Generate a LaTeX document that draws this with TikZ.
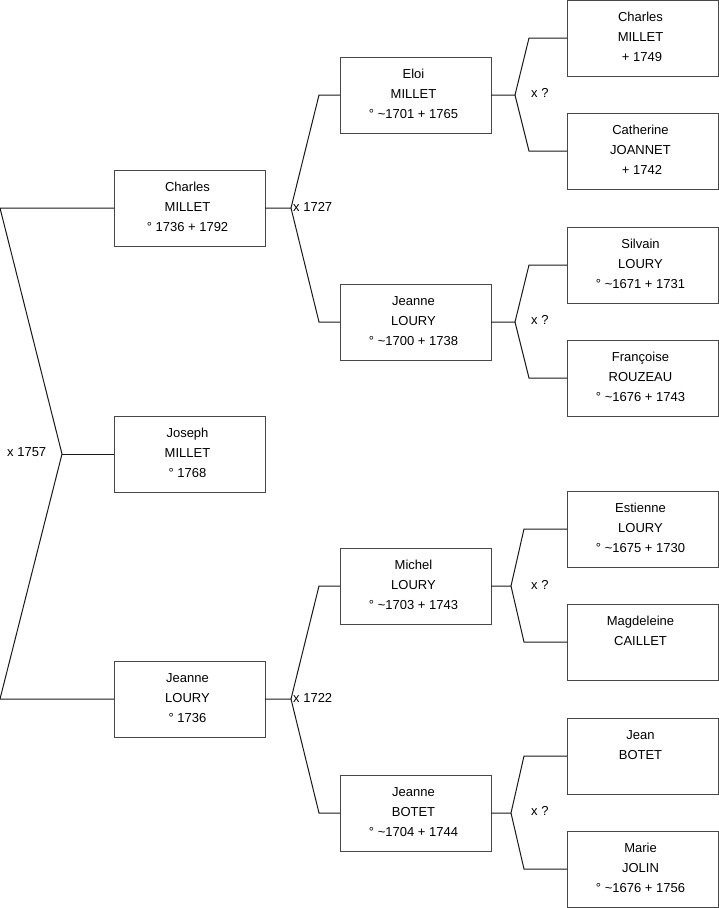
\documentclass[tikz,border=0pt]{standalone}
\usepackage{fontspec}
\setmainfont{Liberation Sans}
\usetikzlibrary{calc}
\newcommand\tld{\textasciitilde}
\begin{document}
\begin{tikzpicture}[x=1pt,y=-1pt,
  box/.style={draw=black!72,line width=1pt,anchor=north west,minimum width=151pt,minimum height=76pt,inner sep=0pt,outer sep=0pt},
  txt/.style={anchor=north,align=center,inner sep=0pt,font=\fontsize{13}{20}\selectfont},
  lbl/.style={anchor=base west,inner sep=0pt,font=\fontsize{13}{20}\selectfont},
  link/.style={draw=black!90,line width=1pt}]
\useasboundingbox (0,0) rectangle (719,908);
% boxes
\node[box] (cm) at (114,170) {};
\node[box] (jm) at (114,416) {};
\node[box] (jl) at (114,661) {};
\node[box] (el) at (340,57) {};
\node[box] (jy) at (340,284) {};
\node[box] (mi) at (340,548) {};
\node[box] (jb) at (340,775) {};
\node[box] (ch) at (567,0) {};
\node[box] (ca) at (567,113) {};
\node[box] (si) at (567,227) {};
\node[box] (fr) at (567,340) {};
\node[box] (es) at (567,491) {};
\node[box] (ma) at (567,604) {};
\node[box] (je) at (567,718) {};
\node[box] (mr) at (567,831) {};
% texts
\node[txt] (cmt) at ($(cm.north)+(-2,12)$) {Charles\\MILLET\\° 1736 + 1792};
\node[txt] (jmt) at ($(jm.north)+(-2,12)$) {Joseph\\MILLET\\° 1768};
\node[txt] (jlt) at ($(jl.north)+(-2,12)$) {Jeanne\\LOURY\\° 1736};
\node[txt] (elt) at ($(el.north)+(-2,12)$) {Eloi\\MILLET\\° \tld1701 + 1765};
\node[txt] (jyt) at ($(jy.north)+(-2,12)$) {Jeanne\\LOURY\\° \tld1700 + 1738};
\node[txt] (mit) at ($(mi.north)+(-2,12)$) {Michel\\LOURY\\° \tld1703 + 1743};
\node[txt] (jbt) at ($(jb.north)+(-2,12)$) {Jeanne\\BOTET\\° \tld1704 + 1744};
\node[txt] (cht) at ($(ch.north)+(-2,12)$) {Charles\\MILLET\\\hspace*{3pt}+ 1749};
\node[txt] (cat) at ($(ca.north)+(-2,12)$) {Catherine\\JOANNET\\\hspace*{3pt}+ 1742};
\node[txt] (sit) at ($(si.north)+(-2,12)$) {Silvain\\LOURY\\° \tld1671 + 1731};
\node[txt] (frt) at ($(fr.north)+(-2,12)$) {Françoise\\ROUZEAU\\° \tld1676 + 1743};
\node[txt] (est) at ($(es.north)+(-2,12)$) {Estienne\\LOURY\\° \tld1675 + 1730};
\node[txt] (mat) at ($(ma.north)+(-2,12)$) {Magdeleine\\CAILLET};
\node[txt] (jet) at ($(je.north)+(-2,12)$) {Jean\\BOTET};
\node[txt] (mrt) at ($(mr.north)+(-2,12)$) {Marie\\JOLIN\\° \tld1676 + 1756};
% junction coordinates
\coordinate (L1) at (0,208);
\coordinate (A0) at (62,454);
\coordinate (L2) at (0,699);
\coordinate (A1) at (291,208);
\coordinate (U1) at (319,95);
\coordinate (D1) at (319,322);
\coordinate (A2) at (291,699);
\coordinate (U2) at (319,586);
\coordinate (D2) at (319,813);
\coordinate (A3) at (515,95);
\coordinate (U3) at (529,38);
\coordinate (D3) at (529,151);
\coordinate (A4) at (515,322);
\coordinate (U4) at (529,265);
\coordinate (D4) at (529,378);
\coordinate (A5) at (511,586);
\coordinate (U5) at (524,529);
\coordinate (D5) at (524,642);
\coordinate (A6) at (511,813);
\coordinate (U6) at (524,756);
\coordinate (D6) at (524,869);
% connectors
\draw[link] (cm.west) -- (L1) -- (A0) -- (L2) -- (jl.west);
\draw[link] (A0) -- (jm.west);
\draw[link] (cm.east) -- (A1) -- (U1) -- (el.west);
\draw[link] (A1) -- (D1) -- (jy.west);
\draw[link] (jl.east) -- (A2) -- (U2) -- (mi.west);
\draw[link] (A2) -- (D2) -- (jb.west);
\draw[link] (el.east) -- (A3) -- (U3) -- (ch.west);
\draw[link] (A3) -- (D3) -- (ca.west);
\draw[link] (jy.east) -- (A4) -- (U4) -- (si.west);
\draw[link] (A4) -- (D4) -- (fr.west);
\draw[link] (mi.east) -- (A5) -- (U5) -- (es.west);
\draw[link] (A5) -- (D5) -- (ma.west);
\draw[link] (jb.east) -- (A6) -- (U6) -- (je.west);
\draw[link] (A6) -- (D6) -- (mr.west);
% labels
\node[lbl] (m0) at (7,456.5) {x 1757};
\node[lbl] (m1) at (293,211.5) {x 1727};
\node[lbl] (m2) at (293,702.5) {x 1722};
\node[lbl] (m3) at (531,97.3) {x ?};
\node[lbl] (m4) at (531,324.5) {x ?};
\node[lbl] (m5) at (531,589) {x ?};
\node[lbl] (m6) at (531,815.7) {x ?};
\end{tikzpicture}
\end{document}
